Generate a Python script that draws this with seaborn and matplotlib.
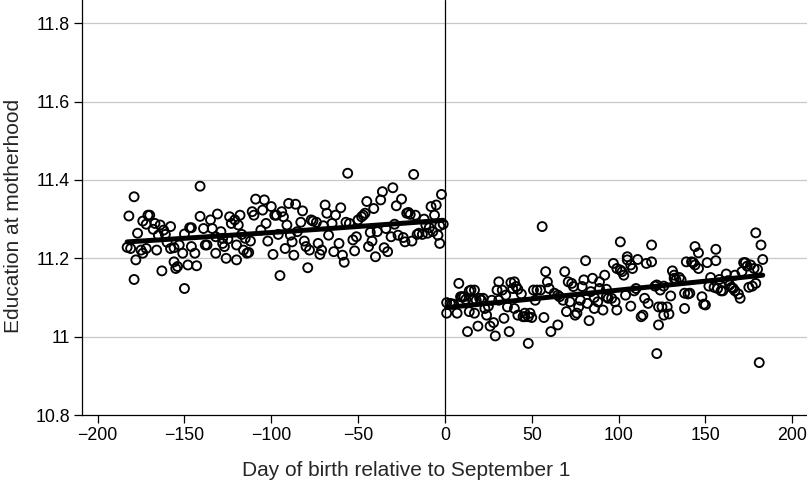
import numpy as np
import pandas as pd
import seaborn as sns
import matplotlib
matplotlib.use("Agg")
from matplotlib import pyplot as plt
from matplotlib.ticker import FuncFormatter

# days before September 1
left_day = [-183, -182, -181, -179, -179, -178, -177, -175, -174, -174, -172, -172,
            -171, -170, -168, -167, -166, -165, -164, -163, -162, -161, -160, -158,
            -158, -156, -156, -155, -154, -153, -151, -150, -150, -148, -147, -146,
            -146, -144, -143, -141, -141, -139, -138, -137, -135, -134, -132, -132,
            -131, -129, -128,
            -128, -127, -126, -125, -124, -123, -121, -120, -120, -118, -119, -117,
            -116, -114, -113, -115, -112, -111, -110, -109, -106, -105, -104, -103,
            -102, -100, -99, -98, -97, -96, -95, -94, -93, -92, -91, -90, -89, -88,
            -87, -86, -85, -83, -82, -81, -80, -79, -78, -77, -76, -74, -73, -72,
            -71, -70, -69, -68, -67, -65, -64, -63,
            -61, -60, -59, -58, -57, -56, -55, -53, -52, -51, -50, -48, -47, -46,
            -45, -44, -43, -42, -41, -40, -39, -37, -36, -35, -34, -33, -31, -30,
            -29, -28, -27, -25, -24, -23, -22, -21, -20, -18, -19, -17, -16, -15,
            -13, -12, -11, -10, -9, -8, -7, -6, -5, -4, -3, -3, -2, -1]
left_edu = [11.228, 11.308, 11.225, 11.357, 11.146, 11.196, 11.264, 11.221, 11.295, 11.213, 11.287, 11.225,
            11.310, 11.310, 11.274, 11.289, 11.221, 11.259, 11.285, 11.168, 11.272, 11.261, 11.241, 11.281,
            11.225, 11.191, 11.227, 11.174, 11.179, 11.234, 11.213, 11.262, 11.123, 11.183, 11.278, 11.230,
            11.278, 11.213, 11.181, 11.307, 11.384, 11.276, 11.234, 11.234, 11.298, 11.276, 11.213, 11.255,
            11.313, 11.268, 11.238,
            11.251, 11.230, 11.200, 11.249, 11.306, 11.289, 11.298, 11.196, 11.234, 11.310, 11.285, 11.261,
            11.221, 11.213, 11.215, 11.251, 11.244, 11.319, 11.310, 11.351, 11.272, 11.323, 11.349, 11.289,
            11.244, 11.332, 11.210, 11.310, 11.310, 11.261, 11.156, 11.319, 11.306, 11.225, 11.285, 11.340, 11.259, 11.242,
            11.208, 11.338, 11.268, 11.292, 11.321, 11.244, 11.230, 11.176, 11.221, 11.298, 11.295, 11.292, 11.238, 11.210,
            11.221, 11.283, 11.336, 11.315, 11.259, 11.289, 11.217, 11.310,
            11.238, 11.329, 11.208, 11.190, 11.292, 11.417, 11.289, 11.247, 11.219, 11.255, 11.298, 11.306, 11.310, 11.315,
            11.345, 11.230, 11.266, 11.244, 11.327, 11.204, 11.268, 11.349, 11.370, 11.227, 11.276, 11.217, 11.255, 11.380,
            11.287, 11.334, 11.259, 11.351, 11.253, 11.242, 11.315, 11.317, 11.312, 11.414, 11.244, 11.310, 11.261, 11.264,
            11.261, 11.300, 11.285, 11.264, 11.278, 11.332, 11.268, 11.310, 11.336, 11.259, 11.238, 11.283, 11.363, 11.287]

# days from September 1 onwards
right_day = [1, 3, 1, 4, 5, 7, 8, 9, 10, 11, 12, 13, 14, 14, 15, 16, 17, 17, 18, 19,
             20, 21, 22, 23, 24, 25, 26, 27, 28, 29, 30, 31, 31, 33, 34, 35, 36, 37,
             38, 39, 40, 40, 41, 42, 42, 44, 45, 46, 46, 48, 48, 49, 50, 51, 52, 53,
             55, 56, 57, 58, 59, 61, 60,
             63, 65, 65, 66, 68, 69, 70, 71, 72, 73, 74, 75, 76, 77, 78, 79, 80, 81,
             82, 83, 84, 85, 86, 86, 88, 89, 89, 91, 92, 93, 93, 94, 96, 97, 98, 99,
             99, 101, 101, 102, 103, 104, 105, 105, 107, 107, 108, 109, 110, 111, 113,
             114, 115, 116, 117, 119, 119, 121, 122, 123, 123,
             122, 124, 125, 126, 126, 128, 129, 130, 131, 132, 132, 133, 135, 136,
             138, 138, 139, 140, 141, 142, 143, 144, 144, 146, 146, 148, 149, 150,
             151, 152, 153, 155, 156, 156, 157, 158, 159, 160, 162, 163, 164, 165,
             166, 167, 167, 169, 170, 171, 172, 173, 174, 175, 176, 177, 178, 179,
             179, 180, 181, 182, 183]
right_edu = [11.087, 11.085, 11.060, 11.083, 11.083, 11.060, 11.136, 11.102, 11.102, 11.102, 11.095, 11.013, 11.117, 11.064, 11.119, 11.093, 11.119, 11.060, 11.093, 11.027,
             11.098, 11.093, 11.098, 11.072, 11.055, 11.078, 11.027, 11.093, 11.036, 11.002, 11.119, 11.140, 11.093, 11.119, 11.047, 11.106, 11.076, 11.013,
             11.138, 11.123, 11.072, 11.140, 11.128, 11.121, 11.055, 11.109, 11.051, 11.051, 11.060, 11.051, 10.983, 11.060, 11.049, 11.119, 11.093, 11.119,
             11.119, 11.281, 11.049, 11.166, 11.140, 11.013, 11.123,
             11.111, 11.030, 11.106, 11.102, 11.093, 11.166, 11.064, 11.140, 11.089, 11.136, 11.128, 11.055, 11.060, 11.076, 11.093, 11.128, 11.145, 11.194,
             11.085, 11.041, 11.115, 11.149, 11.100, 11.072, 11.089, 11.140, 11.123, 11.068, 11.157, 11.102, 11.121, 11.098, 11.098, 11.187, 11.089, 11.068,
             11.174, 11.242, 11.170, 11.166, 11.157, 11.106, 11.204, 11.196, 11.183, 11.078, 11.174, 11.117, 11.123, 11.197, 11.051,
             11.055, 11.098, 11.187, 11.085, 11.191, 11.234, 11.129, 10.957, 11.076, 11.030,
             11.132, 11.119, 11.076, 11.129, 11.055, 11.076, 11.058, 11.104, 11.168, 11.157, 11.149, 11.145, 11.151, 11.145,
             11.072, 11.111, 11.191, 11.109, 11.111, 11.191, 11.189, 11.230, 11.183, 11.214, 11.174, 11.102, 11.083, 11.081,
             11.189, 11.129, 11.151, 11.126, 11.223, 11.194, 11.123, 11.146, 11.117, 11.117, 11.160, 11.143, 11.132, 11.126,
             11.123, 11.117, 11.157, 11.109, 11.098, 11.166, 11.189, 11.189, 11.180, 11.126, 11.183, 11.129, 11.174, 11.136,
             11.265, 11.172, 10.934, 11.234, 11.197]

x_ticks = [-200, -150, -100, -50, 0, 50, 100, 150, 200]
y_ticks = [10.8, 11.0, 11.2, 11.4, 11.6, 11.8]

left = pd.DataFrame({"day": left_day, "edu": left_edu})
right = pd.DataFrame({"day": right_day, "edu": right_edu})

sns.set_style("white")
plt.rcParams['font.family'] = ['Liberation Sans', 'DejaVu Sans']

fig = plt.figure(figsize=(8.07, 4.93), dpi=100)
ax = fig.add_axes([0.1016, 0.158, 0.8984, 0.842])

for df in (left, right):
    sns.scatterplot(data=df, x="day", y="edu", ax=ax, marker="o", s=42,
                    facecolor="none", edgecolor="black", linewidth=1.35, zorder=3)
    sns.regplot(data=df, x="day", y="edu", ax=ax, order=2, ci=None, scatter=False,
                line_kws=dict(color="black", lw=3.6, zorder=4))

ax.axvline(0, color="black", lw=0.9, zorder=2)

ax.set_xlim(-209, 208.5)
ax.set_ylim(10.8, 11.859)
ax.set_xticks(x_ticks)
ax.set_yticks(y_ticks)
ax.yaxis.set_major_formatter(FuncFormatter(lambda v, p: "%g" % round(v, 1)))
for v in y_ticks[1:]:
    ax.axhline(v, color="#c8c8c8", lw=0.9, zorder=1)

ax.spines["top"].set_visible(False)
ax.spines["right"].set_visible(False)
ax.spines["left"].set_color("black")
ax.spines["bottom"].set_color("black")
ax.spines["left"].set_linewidth(0.9)
ax.spines["bottom"].set_linewidth(0.9)
ax.tick_params(axis="both", direction="out", length=5.5, width=0.9, colors="black",
               labelsize=12.8, left=True, bottom=True, pad=3)

ax.set_xlabel("Day of birth relative to September 1", fontsize=15)
ax.set_ylabel("Education at motherhood", fontsize=15)
ax.xaxis.set_label_coords(0.447, -0.11)
ax.yaxis.set_label_coords(-0.082, 0.48)

fig.savefig("out.png", dpi=100)
